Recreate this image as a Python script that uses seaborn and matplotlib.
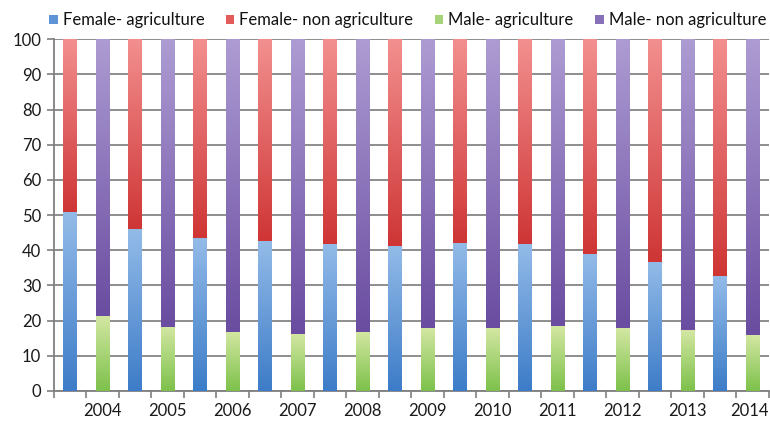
import numpy as np
import pandas as pd
import matplotlib
matplotlib.use("Agg")
import matplotlib.pyplot as plt
import seaborn as sns
from matplotlib.colors import LinearSegmentedColormap
from matplotlib.patches import Patch
from matplotlib.transforms import ScaledTranslation

# ====================== 数据 ======================
years = ["2004", "2005", "2006", "2007", "2008", "2009", "2010", "2011", "2012", "2013", "2014"]
female_agri = [50.8, 45.9, 43.5, 42.7, 41.9, 41.3, 42.1, 41.9, 39.0, 36.7, 32.6]
male_agri = [21.2, 18.3, 16.9, 16.2, 16.9, 17.8, 17.9, 18.4, 17.9, 17.3, 15.9]
series_names = ["Female- agriculture", "Female- non agriculture",
                "Male- agriculture", "Male- non agriculture"]

# 渐变色 (底部深, 顶部浅)
grad = {
    "Female- agriculture": ("#3d7cc8", "#93bbe8"),
    "Female- non agriculture": ("#cf3535", "#f2908f"),
    "Male- agriculture": ("#7dc14b", "#d3e7a2"),
    "Male- non agriculture": ("#6a4ca0", "#ad9cd3"),
}
legend_colors = ["#5f95d6", "#e25c5c", "#a6d27a", "#8870b8"]

rows = []
for y, fa, ma in zip(years, female_agri, male_agri):
    rows.append({"slot": "F" + y, "sex": "F", "agri": fa, "total": 100})
    rows.append({"slot": "M" + y, "sex": "M", "agri": ma, "total": 100})
df = pd.DataFrame(rows)
order = list(df["slot"])

plt.rcParams["font.family"] = ["Lato", "DejaVu Sans"]

fig = plt.figure(figsize=(7.7, 4.21), dpi=100)
ax = fig.add_axes([0.0698, 0.0713, 0.9286, 0.8357])

bw = 0.43
sns.barplot(data=df, x="slot", y="total", hue="sex", order=order, dodge=False,
            palette={"F": "#e05a5a", "M": "#8a70b8"}, width=bw, legend=False,
            errorbar=None, ax=ax, zorder=3)
n_top = len(ax.patches)
sns.barplot(data=df, x="slot", y="agri", hue="sex", order=order, dodge=False,
            palette={"F": "#6a9fdc", "M": "#a9d477"}, width=bw, legend=False,
            errorbar=None, ax=ax, zorder=3)

top_patches = [p for p in ax.patches[:n_top] if p.get_height() > 0]
bot_patches = [p for p in ax.patches[n_top:] if p.get_height() > 0]
agri_at = {round(p.get_x() + p.get_width() / 2): p.get_height() for p in bot_patches}


def add_gradient(p, key):
    cmap = LinearSegmentedColormap.from_list(key, list(grad[key]))
    x0, y0 = p.get_x(), p.get_y()
    w, h = p.get_width(), p.get_height()
    g = np.linspace(0, 1, 256).reshape(-1, 1)
    im = ax.imshow(g, extent=[x0, x0 + w, y0, y0 + h], origin="lower",
                   cmap=cmap, aspect="auto", zorder=3.5, interpolation="bicubic")
    im.set_clip_path(p)


for p in top_patches:
    c = round(p.get_x() + p.get_width() / 2)
    a = agri_at[c]
    p.set_y(a)
    p.set_height(100 - a)
    key = "Female- non agriculture" if c % 2 == 0 else "Male- non agriculture"
    add_gradient(p, key)

for p in bot_patches:
    c = round(p.get_x() + p.get_width() / 2)
    key = "Female- agriculture" if c % 2 == 0 else "Male- agriculture"
    add_gradient(p, key)

# ====================== 坐标轴 ======================
ax.set_xlim(-0.5, len(order) - 0.5)
ax.set_ylim(0, 100)
ax.set_yticks(range(0, 101, 10))
ax.set_xticks(np.arange(1, len(order), 2))
ax.set_xticklabels(years, fontsize=12, color="#1a1a1a")
ax.set_xticks(np.arange(-0.5, len(order), 1), minor=True)
ax.tick_params(axis="x", which="major", length=0, pad=9)
ax.tick_params(axis="x", which="minor", length=5, color="#7f7f7f", width=1.2)
ax.tick_params(axis="y", length=5, color="#7f7f7f", width=1.2, labelsize=12,
               labelcolor="#1a1a1a", pad=4)
ax.set_xlabel("")
ax.set_ylabel("")

# 最后一个年份靠右, 避免被裁切
last = ax.get_xticklabels()[-1]
last.set_ha("right")
last.set_transform(last.get_transform() + ScaledTranslation(0.16, 0, fig.dpi_scale_trans))

ax.grid(axis="y", color="#858585", linewidth=1.3, zorder=0)
ax.set_axisbelow(True)
for s in ["top", "right"]:
    ax.spines[s].set_visible(False)
for s in ["left", "bottom"]:
    ax.spines[s].set_color("#7f7f7f")
    ax.spines[s].set_linewidth(1.3)

# ====================== 图例 ======================
handles = [Patch(facecolor=c, edgecolor="none") for c in legend_colors]
fig.legend(handles, series_names, loc="center left", bbox_to_anchor=(0.064, 0.952),
           ncol=4, frameon=False, fontsize=12, handlelength=0.5, handleheight=0.5,
           handletextpad=0.3, columnspacing=1.3, borderaxespad=0, borderpad=0,
           labelcolor="#111111")

fig.savefig("out.png", dpi=100)
